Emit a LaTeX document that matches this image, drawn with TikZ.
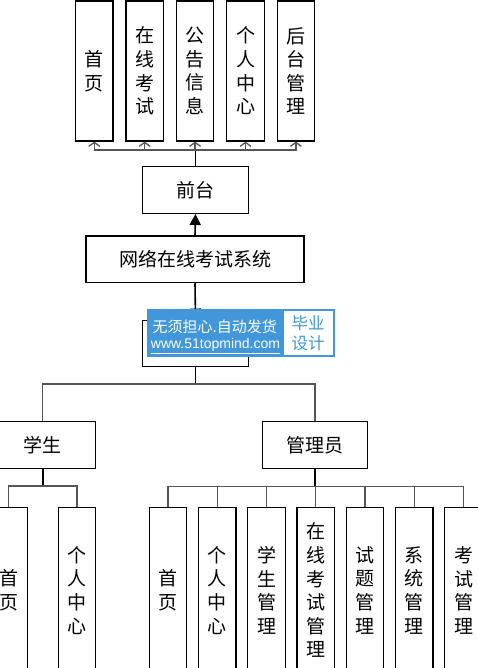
\documentclass[tikz,border=0pt]{standalone}
\usepackage{fontspec}
\newfontfamily\cjk{Noto Sans CJK SC}
\newfontfamily\wmlatin{Liberation Sans}
\usetikzlibrary{arrows.meta, positioning, calc}
\definecolor{wmblue}{RGB}{66,150,218}
\definecolor{busgray}{RGB}{85,85,85}
\tikzset{
    tree/.style={x=1pt, y=-1pt, font=\cjk\fontsize{19}{23.6}\selectfont},
    box/.style={draw, line width=1.2pt, inner sep=0pt, align=center},
    wide/.style={box, minimum width=105.6pt, minimum height=46.7pt},
    bar/.style={box, minimum width=37.5pt, minimum height=140pt},
    tall/.style={box, minimum width=37.5pt, minimum height=166pt},
    trunk/.style={line width=1.6pt},
    twig/.style={line width=1.3pt, draw=busgray},
    % open tip on the front page branches
    barb/.style={-{Straight Barb[length=4pt,width=11pt]}},
    solid tip/.style={-{Triangle[length=11pt,width=11pt]}},
}

\begin{document}
\begin{tikzpicture}[tree]
        \useasboundingbox (0,0) rectangle (478,668);
        \clip (0,0) rectangle (478,668);

        % front page row
        \node[bar]                    (t1) at (94.3,71) {首\\页};
        \node[bar, right=11.7pt of t1] (t2) {在\\线\\考\\试};
        \node[bar, right=11.7pt of t2] (t3) {公\\告\\信\\息};
        \node[bar, right=11.7pt of t3] (t4) {个\\人\\中\\心};
        \node[bar, right=11.7pt of t4] (t5) {后\\台\\管\\理};

        \node[wide]                   (qt)  at (195.5,190) {前台};
        \node[wide, minimum width=218pt] (sys) at (195,259.3) {网络在线考试系统};
        \node[wide]                   (hid) at (195.5,343.5) {};

        \node[wide]                   (stu) at (42.7,445) {学生};
        \node[wide]                   (adm) at (315,445) {管理员};

        % student row
        \node[tall]                   (s1) at (8.5,590.3) {首\\页};
        \node[tall, right=29.8pt of s1]  (s2) {个\\人\\中\\心};

        % admin row
        \node[tall]                    (a1) at (168,590.3) {首\\页};
        \node[tall, right=10.55pt of a1] (a2) {个\\人\\中\\心};
        \node[tall, right=10.55pt of a2] (a3) {学\\生\\管\\理};
        \node[tall, right=10.55pt of a3] (a4) {在\\线\\考\\试\\管\\理};
        \node[tall, right=10.55pt of a4] (a5) {试\\题\\管\\理};
        \node[tall, right=10.55pt of a5] (a6) {系\\统\\管\\理};
        \node[tall, right=10.55pt of a6] (a7) {考\\试\\管\\理};

        \coordinate (tbus) at (0,150);
        \coordinate (rbus) at (0,384);
        \coordinate (sbus) at (0,486);
        \coordinate (abus) at (0,486.7);

        \draw[trunk] (qt.north) -- (qt.north |- tbus);
        \foreach \k in {1,...,5}
            \draw[twig, barb] (qt.north |- tbus) -| (t\k.south);

        \draw[trunk, solid tip] (sys.north) -- (qt.south);
        \draw[trunk, solid tip] (sys.south) -- (hid.north);

        \draw[trunk] (hid.south) -- (hid.south |- rbus);
        \draw[twig] (stu.north) |- (hid.south |- rbus) -| (adm.north);

        \draw[trunk] (stu.south) -- (stu.south |- sbus);
        \draw[twig] (s1.north) |- (stu.south |- sbus) -| (s2.north);

        \draw[trunk] (adm.south) -- (adm.south |- abus);
        \foreach \k in {1,...,7}
            \draw[twig] (adm.south |- abus) -| (a\k.north);

        % watermark stamp
        \node[fill=wmblue, inner sep=0pt, minimum width=188.3pt, minimum height=48pt] (wm) at (240.85,333) {};
        \node[fill=white, inner sep=0pt, minimum width=49pt, minimum height=44pt] (wmtag) at (308,333) {};
        \node[text=white, font=\cjk\fontsize{15}{16}\selectfont] (wmtop) at (214.7,326.5) {无须担心.自动发货};
        \node[text=white, font=\wmlatin\fontsize{14}{16}\selectfont] (wmurl) at (215.5,346) {\underline{www.51topmind.com}};
        \node[text=wmblue, align=center, font=\cjk\fontsize{16.5}{20}\selectfont] (wmword) at (wmtag) {毕业\\设计};
\end{tikzpicture}
\end{document}
